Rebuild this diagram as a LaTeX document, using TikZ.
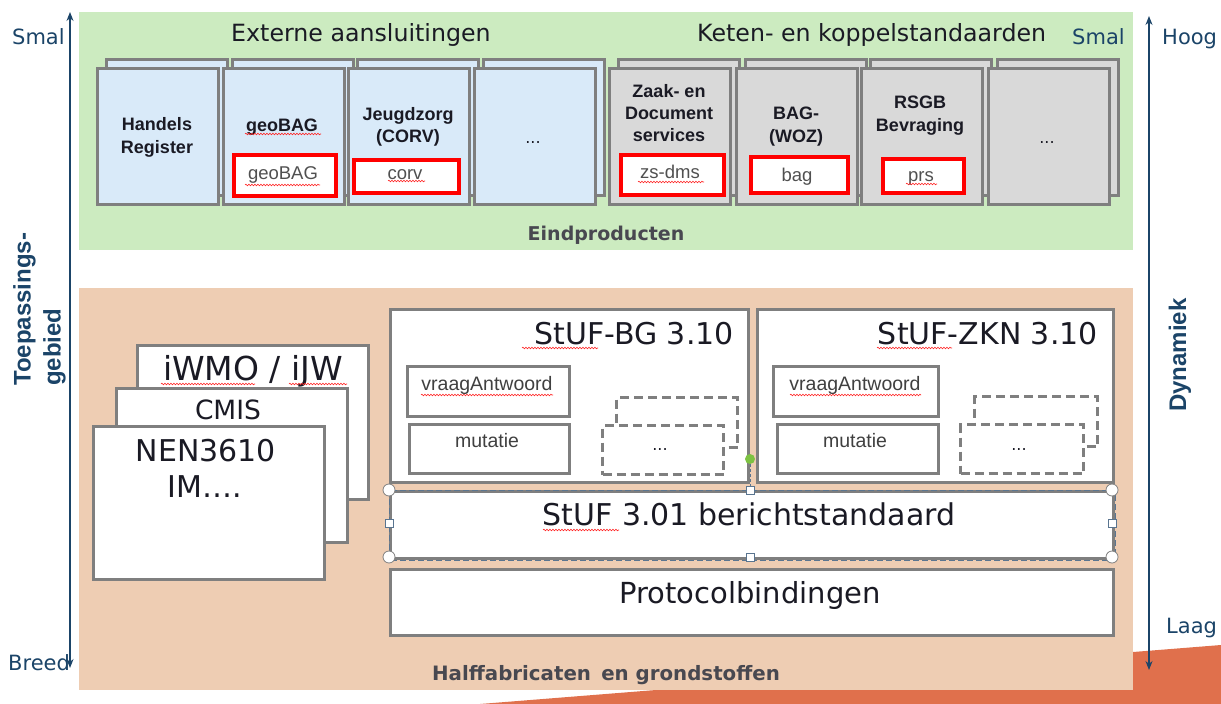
\documentclass[tikz,border=0pt]{standalone}
\usepackage{fontspec}
\setmainfont{DejaVu Sans}
\newfontfamily\arialfont{Liberation Sans}
\usetikzlibrary{arrows.meta,decorations.pathmorphing}
\definecolor{greenbg}{HTML}{CCEBC0}
\definecolor{peachbg}{HTML}{EECDB3}
\definecolor{orangebg}{HTML}{E0704C}
\definecolor{cardblue}{HTML}{D9EAF9}
\definecolor{cardgray}{HTML}{D9D9D9}
\definecolor{bordergray}{HTML}{7F7F7F}
\definecolor{axisblue}{HTML}{1B4468}
\definecolor{textdark}{HTML}{1A1A24}
\definecolor{textgray}{HTML}{505050}
\definecolor{handleblue}{HTML}{5A7590}
\definecolor{greendot}{HTML}{7DC242}
\newcommand\fsz[2]{\fontsize{#1}{#2}\selectfont}
\tikzset{
  card/.style={draw=bordergray, line width=3pt, inner sep=0pt, minimum width=121pt, minimum height=136pt, anchor=north west},
  bluecard/.style={card, fill=cardblue},
  graycard/.style={card, fill=cardgray},
  redbox/.style={draw=red, line width=3.5pt, fill=white, anchor=north west, inner sep=0pt},
  cardtitle/.style={font=\arialfont\bfseries\fsz{18}{23}, text=textdark, align=center, inner sep=0pt, anchor=base},
  redtext/.style={font=\arialfont\fsz{18.5}{22}, text=textgray, inner sep=0pt, anchor=base},
  whitebox/.style={draw=bordergray, line width=3pt, fill=white, anchor=north west, inner sep=0pt},
  dashbox/.style={draw=bordergray, line width=3pt, fill=white, dash pattern=on 9pt off 5pt, anchor=north west, inner sep=0pt},
  smalltext/.style={font=\arialfont\fsz{19.5}{22}, text=textgray!80!black, inner sep=0pt, anchor=base},
  bigtext/.style={font=\fsz{30}{36}, text=textdark, inner sep=0pt},
  headtext/.style={font=\fsz{23.7}{28}, text=textdark, inner sep=0pt, anchor=base west},
  axislabel/.style={font=\fsz{21}{25}, text=axisblue, inner sep=0pt, anchor=base west},
  boldlabel/.style={font=\bfseries\fsz{19}{23}, text=textdark!80!white, inner sep=0pt, anchor=base},
  axis/.style={draw=axisblue, line width=1.2pt, arrows={Stealth[length=9pt,width=7pt]-Stealth[length=9pt,width=7pt]}},
  squig/.style={draw=red!85!white, line width=0.6pt, decorate, decoration={snake, amplitude=0.8pt, segment length=3pt}},
  handlesq/.style={draw=handleblue, fill=white, line width=0.8pt, minimum size=8pt, inner sep=0pt},
  handlecirc/.style={circle, draw=gray, fill=white, line width=0.8pt, minimum size=12pt, inner sep=0pt},
}
\begin{document}
\begin{tikzpicture}[x=1pt,y=-1pt]
\useasboundingbox (0,0) rectangle (1221,704);
% backgrounds
\fill[orangebg] (480,704) -- (1221,645) -- (1221,704) -- cycle;
\fill[greenbg] (79,12) rectangle (1133,250);
\fill[peachbg] (79,288) rectangle (1133,690);

% axes
\coordinate (lt) at (70,12);
\coordinate (lb) at (70,668);
\draw[axis] (lb) -- (lt);
\coordinate (rt) at (1149,16);
\coordinate (rb) at (1149,670);
\draw[axis] (rb) -- (rt);
\node[axislabel] (smalL) at (12,44) {Smal};
\node[axislabel] (breed) at (8,670) {Breed};
\node[axislabel] (smalR) at (1072,44) {Smal};
\node[axislabel] (hoog) at (1162,44) {Hoog};
\node[axislabel] (laag) at (1166,633) {Laag};
\node[rotate=90, align=left, anchor=north west, inner sep=0pt, font=\arialfont\bfseries\fsz{24}{30}, text=axisblue] (toep) at (13,386) {Toepassings-\\gebied};
\node[rotate=90, inner sep=0pt, font=\arialfont\bfseries\fsz{24}{30}, text=axisblue] (dyn) at (1180,355) {Dynamiek};

% headings
\node[headtext] (ext) at (231,41) {Externe aansluitingen};
\node[headtext] (keten) at (697,41) {Keten- en koppelstandaarden};

% cards
\foreach \x/\n in {96/a,222/b,347/c,473/d} {
  \node[bluecard] (back\n) at ({\x+9},58) {};
  \node[bluecard] (card\n) at (\x,67) {};
}
\foreach \x/\n in {608/e,735/f,860/g,987/h} {
  \node[graycard] (back\n) at ({\x+9},58) {};
  \node[graycard] (card\n) at (\x,67) {};
}
% card titles
\node[cardtitle] (t1) at (157,130) {Handels};
\node[cardtitle] (t1b) at (157,153) {Register};
\node[cardtitle] (t2) at (282,131) {geoBAG};
\node[cardtitle] (t3) at (408,120) {Jeugdzorg};
\node[cardtitle] (t3b) at (408,142) {(CORV)};
\node[font=\fsz{16}{18}, text=textdark, inner sep=0pt, anchor=base] (t4) at (533,143) {...};
\node[cardtitle] (t5) at (669,97) {Zaak- en};
\node[cardtitle] (t5b) at (669,119) {Document};
\node[cardtitle] (t5c) at (669,141) {services};
\node[cardtitle] (t6) at (796,119) {BAG-};
\node[cardtitle] (t6b) at (796,142) {(WOZ)};
\node[cardtitle] (t7) at (920,108) {RSGB};
\node[cardtitle] (t7b) at (920,131) {Bevraging};
\node[font=\fsz{16}{18}, text=textdark, inner sep=0pt, anchor=base] (t8) at (1047,143) {...};
% red boxes
\node[redbox, minimum width=102pt, minimum height=41pt] (rb2) at (232,153) {};
\node[redtext] (r2) at (283,179) {geoBAG};
\node[redbox, minimum width=105pt, minimum height=33pt] (rb3) at (352,158) {};
\node[redtext] (r3) at (405,179) {corv};
\node[redbox, minimum width=103pt, minimum height=40pt] (rb5) at (619,153) {};
\node[redtext] (r5) at (670,178) {zs-dms};
\node[redbox, minimum width=97pt, minimum height=36pt] (rb6) at (749,155) {};
\node[redtext] (r6) at (797,181) {bag};
\node[redbox, minimum width=81pt, minimum height=34pt] (rb7) at (881,157) {};
\node[redtext] (r7) at (921,181) {prs};
\node[boldlabel] (eind) at (606,240) {Eindproducten};

% left stacked documents
\node[whitebox, minimum width=231pt, minimum height=154pt] (iwmo) at (136,344) {};
\node[bigtext, font=\fsz{33}{38}, anchor=base] (iwmot) at (253,380) {iWMO / iJW};
\node[whitebox, minimum width=231pt, minimum height=154pt] (cmis) at (115,387) {};
\node[bigtext, font=\fsz{26.5}{30}, anchor=base] (cmist) at (228,419) {CMIS};
\node[whitebox, minimum width=231pt, minimum height=153pt] (nen) at (92,425) {};
\node[bigtext, anchor=base] (nent) at (206,461) {NEN3610};
\node[bigtext, anchor=base] (imt) at (205,497) {IM….};

% StUF-BG
\node[whitebox, minimum width=358pt, minimum height=173pt] (bg) at (389,308) {};
\node[bigtext, anchor=base east] (bgt) at (734,344) {StUF-BG 3.10};
\node[whitebox, minimum width=162pt, minimum height=50pt] (bgva) at (406,365) {};
\node[smalltext] (bgvat) at (487,390) {vraagAntwoord};
\node[whitebox, minimum width=160pt, minimum height=49pt] (bgmu) at (408,423) {};
\node[smalltext] (bgmut) at (487,447) {mutatie};
\node[dashbox, minimum width=121pt, minimum height=50pt] (bgd1) at (615,396) {};
\node[dashbox, minimum width=121pt, minimum height=49pt] (bgd2) at (601,424) {};
\node[font=\fsz{16}{18}, text=textdark, inner sep=0pt, anchor=base] (bgdt) at (660,450) {...};

% StUF-ZKN
\node[whitebox, minimum width=356pt, minimum height=173pt] (zkn) at (756,308) {};
\node[bigtext, anchor=base east] (zknt) at (1098,344) {StUF-ZKN 3.10};
\node[whitebox, minimum width=165pt, minimum height=50pt] (zknva) at (772,365) {};
\node[smalltext] (zknvat) at (855,390) {vraagAntwoord};
\node[whitebox, minimum width=161pt, minimum height=49pt] (zknmu) at (776,423) {};
\node[smalltext] (zknmut) at (855,447) {mutatie};
\node[dashbox, minimum width=123pt, minimum height=50pt] (zknd1) at (973,395) {};
\node[dashbox, minimum width=123pt, minimum height=49pt] (zknd2) at (959,423) {};
\node[font=\fsz{16}{18}, text=textdark, inner sep=0pt, anchor=base] (zkndt) at (1019,450) {...};

% StUF 3.01 berichtstandaard (selected)
\node[whitebox, minimum width=723pt, minimum height=67pt] (ber) at (389,490) {};
\draw[handleblue, line width=0.9pt, dash pattern=on 6pt off 3pt] (ber.north west) rectangle (ber.south east);
\node[bigtext, anchor=base] (bert) at (749,525) {StUF 3.01 berichtstandaard};
\node[circle, fill=greendot, minimum size=10pt, inner sep=0pt] (rot) at (750,459) {};
\node[handlesq] (hn) at (750,490) {};
\draw[handleblue, line width=0.8pt, dash pattern=on 3pt off 2pt] (rot) -- (hn);
\node[handlesq] (hs) at (750,557) {};
\node[handlesq] (hw) at (389,523) {};
\node[handlesq] (he) at (1112,523) {};
\node[handlecirc] (hnw) at (389,490) {};
\node[handlecirc] (hne) at (1112,490) {};
\node[handlecirc] (hsw) at (389,557) {};
\node[handlecirc] (hse) at (1112,557) {};

% Protocolbindingen
\node[whitebox, minimum width=723pt, minimum height=66pt] (prot) at (389,568) {};
\node[bigtext, font=\fsz{29}{34}, anchor=base] (prott) at (750,603) {Protocolbindingen};
\node[boldlabel, font=\bfseries\fsz{19.8}{23}] (half) at (606,680) {Halffabricaten\, en grondstoffen};

% spell-check squiggles
\draw[squig] (245,134) -- (321,134);
\draw[squig] (245,185) -- (320,185);
\draw[squig] (388,181) -- (425,181);
\draw[squig] (638,182) -- (704,182);
\draw[squig] (906,184) -- (937,184);
\draw[squig] (522,348) -- (598,348);
\draw[squig] (421,395) -- (553,395);
\draw[squig] (877,348) -- (952,348);
\draw[squig] (790,395) -- (921,395);
\draw[squig] (543,530) -- (619,530);
\draw[squig] (161,384) -- (255,384);
\draw[squig] (289,384) -- (347,384);
\end{tikzpicture}
\end{document}
